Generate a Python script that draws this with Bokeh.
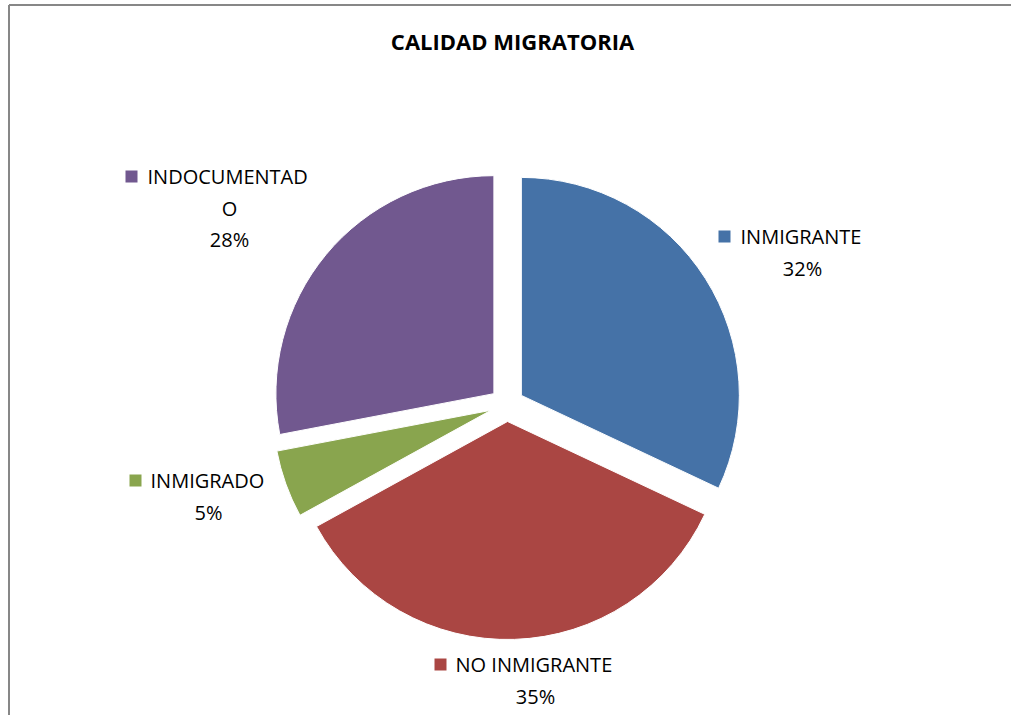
import math
from bokeh.plotting import figure
from bokeh.models import Range1d, ColumnDataSource
from bokeh.core.properties import value
from bokeh.embed import file_html
from bokeh.resources import INLINE

# ---- data ----
categories = ["INMIGRANTE", "NO INMIGRANTE", "INMIGRADO", "INDOCUMENTADO"]
percents = [32, 35, 5, 28]
colors = ["#4572A7", "#AA4643", "#89A54E", "#71588F"]
label_lines = [["INMIGRANTE"], ["NO INMIGRANTE"], ["INMIGRADO"], ["INDOCUMENTAD", "O"]]

W, H = 1011, 715

def Y(sy):  # screen y -> data y
    return H - sy

p = figure(width=W, height=H, output_backend="svg", toolbar_location=None,
           x_range=Range1d(0, W), y_range=Range1d(0, H),
           min_border=0)
p.axis.visible = False
p.grid.visible = False
p.outline_line_color = None
p.background_fill_color = "white"
p.border_fill_color = "white"

# chart frame (left and top edges visible in the reference)
p.segment(x0=[8.5, 8.5], y0=[Y(715), Y(4.5)], x1=[8.5, 1011], y1=[Y(4.5), Y(4.5)],
          line_color="#878787", line_width=2)

# ---- pie ----
cx, cy = 506.5, Y(404)
R = 218
explode = 17
total = sum(percents)
xs, ys, starts, ends = [], [], [], []
cum = 0.0
for v in percents:
    a0 = math.pi / 2 - 2 * math.pi * cum / total
    cum += v
    a1 = math.pi / 2 - 2 * math.pi * cum / total
    mid = (a0 + a1) / 2
    xs.append(cx + explode * math.cos(mid))
    ys.append(cy + explode * math.sin(mid))
    starts.append(a1)
    ends.append(a0)

src = ColumnDataSource(dict(x=xs, y=ys, s=starts, e=ends, c=colors))
p.wedge(x="x", y="y", radius=R, start_angle="s", end_angle="e",
        direction="anticlock", fill_color="c", line_color="white",
        line_width=1, source=src)

# ---- title ----
p.text(x=[512], y=[Y(40)], text=["CALIDAD MIGRATORIA"],
       text_font=value("Open Sans"), text_font_style="bold",
       text_font_size="22px", text_align="center", text_baseline="middle",
       text_color="black")

# ---- data labels (layout positions) ----
label_layout = [
    # square x, first line y, text left x, block center x
    dict(sq=724, y=236, tx=740, cxl=802),
    dict(sq=440, y=664, tx=455, cxl=535),
    dict(sq=135, y=480, tx=150, cxl=208),
    dict(sq=131, y=176, tx=147, cxl=229),
]
LINE = 31.5
FS = "20px"
for i, lay in enumerate(label_layout):
    p.rect(x=[lay["sq"]], y=[Y(lay["y"])], width=12, height=12,
           fill_color=colors[i], line_color=None)
    lines = label_lines[i]
    p.text(x=[lay["tx"]], y=[Y(lay["y"])], text=[lines[0]],
           text_font=value("Open Sans"), text_font_size=FS,
           text_align="left", text_baseline="middle", text_color="black")
    extra = lines[1:] + [f"{percents[i]}%"]
    for k, t in enumerate(extra):
        p.text(x=[lay["cxl"]], y=[Y(lay["y"] + LINE * (k + 1))], text=[t],
               text_font=value("Open Sans"), text_font_size=FS,
               text_align="center", text_baseline="middle", text_color="black")

open("out.html", "w").write(file_html(p, INLINE))
